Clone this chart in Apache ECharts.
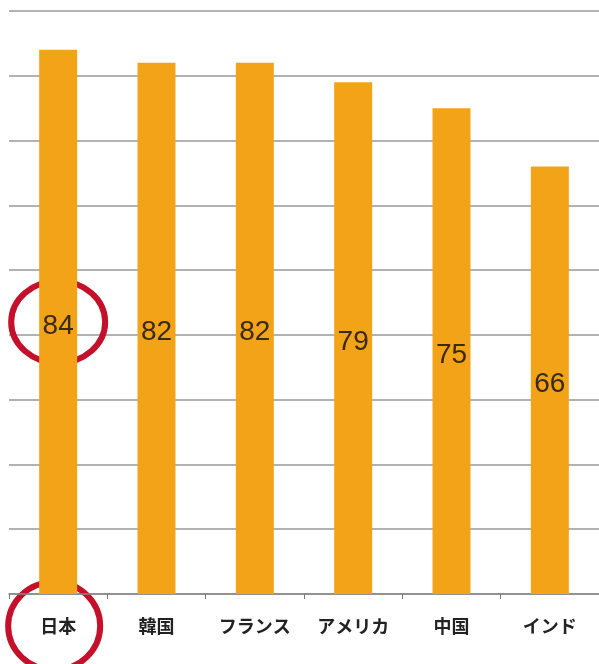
<!DOCTYPE html>
<html>
<head>
<meta charset="utf-8">
<script src="https://cdn.jsdelivr.net/npm/echarts@6/dist/echarts.min.js"></script>
<style>
  html, body { margin: 0; padding: 0; background: #fff; }
  #chart { width: 599px; height: 664px; }
</style>
</head>
<body>
<div id="chart"></div>
<script>
var categories = ['日本', '韓国', 'フランス', 'アメリカ', '中国', 'インド'];
var values = [84, 82, 82, 79, 75, 66];
var highlightIndex = 0;

var chart = echarts.init(document.getElementById('chart'));

var option = {
  animation: false,
  grid: { left: 9, right: 0, top: 11, bottom: 70 },
  xAxis: {
    type: 'category',
    data: categories,
    axisLine: { lineStyle: { color: '#888', width: 1.5 } },
    axisTick: { show: true, interval: 0, length: 5, lineStyle: { color: '#777' } },
    axisLabel: {
      interval: 0,
      hideOverlap: false,
      margin: 23,
      fontSize: 18,
      fontWeight: 'bold',
      color: '#222',
      fontFamily: 'Noto Sans CJK JP'
    }
  },
  yAxis: {
    type: 'value',
    min: 0,
    max: 90,
    interval: 10,
    axisLabel: { show: false },
    axisLine: { show: false },
    axisTick: { show: false },
    splitLine: { lineStyle: { color: '#999', width: 1.5 } }
  },
  series: [
    {
      type: 'bar',
      data: values,
      barWidth: 38,
      itemStyle: { color: '#f3a318' },
      label: {
        show: true,
        position: 'inside',
        offset: [0, 4],
        fontSize: 28,
        color: '#3a2a12',
        fontFamily: 'Liberation Sans'
      }
    }
  ]
};

chart.setOption(option);

// red circles around the highlighted value and its category label
var p = chart.convertToPixel({ seriesIndex: 0 }, [highlightIndex, values[highlightIndex] / 2]);
var base = chart.convertToPixel({ seriesIndex: 0 }, [highlightIndex, 0]);
chart.setOption({
  graphic: [
    {
      type: 'ellipse',
      shape: { cx: p[0], cy: p[1], rx: 47, ry: 41 },
      style: { fill: null, stroke: '#c4102a', lineWidth: 6 }
    },
    {
      type: 'ellipse',
      shape: { cx: base[0] - 4, cy: base[1] + 32, rx: 46, ry: 44 },
      style: { fill: null, stroke: '#c4102a', lineWidth: 6 }
    }
  ]
});
</script>
</body>
</html>
